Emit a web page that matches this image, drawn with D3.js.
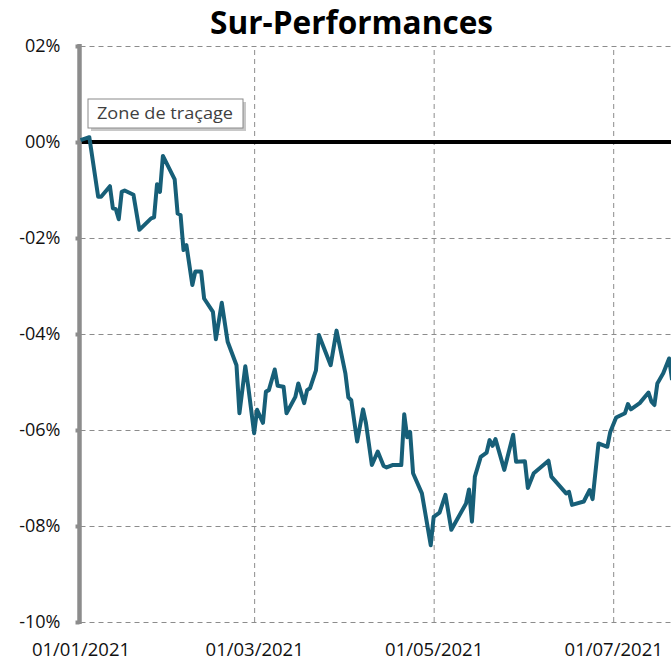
<!DOCTYPE html>
<html>
<head>
<meta charset="utf-8">
<script src="https://cdn.jsdelivr.net/npm/d3@7"></script>
<style>
  body { margin: 0; background: #fff; }
  svg { display: block; }
</style>
</head>
<body>
<div id="chart"></div>
<script>
// series (values in %)
var dates = [
  "2021-01-01","2021-01-04","2021-01-07","2021-01-08","2021-01-11","2021-01-12","2021-01-13",
  "2021-01-14","2021-01-15","2021-01-16","2021-01-19","2021-01-21","2021-01-25","2021-01-26",
  "2021-01-27","2021-01-28","2021-01-29","2021-02-02","2021-02-03","2021-02-04","2021-02-05",
  "2021-02-06","2021-02-08","2021-02-09","2021-02-11","2021-02-12","2021-02-15","2021-02-16",
  "2021-02-18","2021-02-20","2021-02-23","2021-02-24","2021-02-26","2021-02-27","2021-03-01",
  "2021-03-02","2021-03-04","2021-03-05","2021-03-06","2021-03-08","2021-03-09","2021-03-11",
  "2021-03-12","2021-03-15","2021-03-16","2021-03-18","2021-03-19","2021-03-20","2021-03-22",
  "2021-03-23","2021-03-27","2021-03-29","2021-04-01","2021-04-02","2021-04-03","2021-04-05",
  "2021-04-07","2021-04-08","2021-04-10","2021-04-12","2021-04-14","2021-04-15","2021-04-17",
  "2021-04-20","2021-04-21","2021-04-22","2021-04-23","2021-04-24","2021-04-27","2021-04-30",
  "2021-05-01","2021-05-03","2021-05-05","2021-05-07","2021-05-12","2021-05-13","2021-05-14",
  "2021-05-15","2021-05-17","2021-05-19","2021-05-20","2021-05-21","2021-05-22","2021-05-25",
  "2021-05-28","2021-05-29","2021-06-01","2021-06-02","2021-06-04","2021-06-09","2021-06-10",
  "2021-06-15","2021-06-16","2021-06-17","2021-06-21","2021-06-23","2021-06-24","2021-06-26",
  "2021-06-29","2021-06-30","2021-07-02","2021-07-05","2021-07-06","2021-07-07","2021-07-10",
  "2021-07-13","2021-07-14","2021-07-15","2021-07-16","2021-07-18","2021-07-20","2021-07-21"
];
var surPerf = [
  0.04, 0.10, -1.14, -1.14, -0.92, -1.38, -1.40,
  -1.61, -1.04, -1.01, -1.10, -1.83, -1.59, -1.57,
  -0.88, -1.04, -0.29, -0.78, -1.49, -1.52, -2.25,
  -2.15, -2.98, -2.70, -2.70, -3.26, -3.54, -4.11,
  -3.35, -4.16, -4.65, -5.65, -4.67, -5.10, -6.07,
  -5.58, -5.85, -5.20, -5.17, -4.74, -5.08, -5.10,
  -5.65, -5.31, -5.03, -5.44, -5.17, -5.13, -4.76,
  -4.02, -4.65, -3.93, -4.82, -5.32, -5.38, -6.24,
  -5.57, -5.86, -6.73, -6.45, -6.75, -6.78, -6.73,
  -6.73, -5.67, -6.15, -6.04, -6.90, -7.32, -8.40,
  -7.81, -7.72, -7.35, -8.08, -7.53, -7.24, -7.91,
  -6.97, -6.56, -6.47, -6.21, -6.33, -6.19, -6.83,
  -6.10, -6.66, -6.65, -7.21, -6.90, -6.64, -6.97,
  -7.32, -7.29, -7.56, -7.49, -7.25, -7.44, -6.28,
  -6.35, -6.04, -5.74, -5.65, -5.46, -5.57, -5.44,
  -5.22, -5.41, -5.48, -5.03, -4.82, -4.51, -4.96
];
var yTicks = [2, 0, -2, -4, -6, -8, -10];
var xTickLabels = ["2021-01-01", "2021-03-01", "2021-05-01", "2021-07-01"];
var chartTitle = "Sur-Performances";
var tipLabel = "Zone de traçage";

var width = 671, height = 662;
var plotLeft = 80.5, plotTop = 46, plotBottom = 622;
var font = "'Open Sans', 'Liberation Sans', sans-serif";

var parse = d3.timeParse("%Y-%m-%d");
var data = dates.map(function(d, i) { return {date: parse(d), value: surPerf[i]}; });
var xTicks = xTickLabels.map(parse);

var x = d3.scaleTime()
    .domain([parse("2021-01-01"), parse("2021-07-01")])
    .range([plotLeft, 613.2]);

var y = d3.scaleLinear()
    .domain([-10, 2])
    .range([plotBottom, plotTop]);

var pct = function(v) {
  return (v < 0 ? "-" : "") + String(Math.abs(v)).padStart(2, "0") + "%";
};

var svg = d3.select("#chart").append("svg")
    .attr("width", width)
    .attr("height", height);

// dashed grid
var gridY = svg.append("g")
    .attr("transform", "translate(" + plotLeft + ",0)")
    .call(d3.axisLeft(y).tickValues(yTicks).tickSize(-(width - plotLeft)).tickFormat(""));
var gridX = svg.append("g")
    .attr("transform", "translate(0," + plotBottom + ")")
    .call(d3.axisBottom(x).tickValues(xTicks.slice(1)).tickSize(-(plotBottom - plotTop)).tickFormat(""));
[gridY, gridX].forEach(function(g) {
  g.select(".domain").remove();
  g.selectAll("line")
    .attr("stroke", "#8c8c8c")
    .attr("stroke-width", 1)
    .attr("stroke-dasharray", "5,4");
});

// zero line
svg.append("line")
    .attr("x1", plotLeft).attr("x2", width)
    .attr("y1", y(0)).attr("y2", y(0))
    .attr("stroke", "#000")
    .attr("stroke-width", 4);

// y axis with labels
var yAxis = svg.append("g")
    .attr("transform", "translate(" + (plotLeft - 1) + ",0)")
    .call(d3.axisLeft(y).tickValues(yTicks).tickFormat(pct).tickSize(4).tickPadding(15));
yAxis.select(".domain").remove();
yAxis.selectAll("line").attr("stroke", "#8c8c8c").attr("stroke-width", 4);
yAxis.selectAll("text")
    .attr("fill", "#111")
    .style("font-family", font)
    .style("font-size", "18px");

svg.append("line")
    .attr("x1", plotLeft - 1).attr("x2", plotLeft - 1)
    .attr("y1", plotTop - 2).attr("y2", plotBottom + 2)
    .attr("stroke", "#8c8c8c")
    .attr("stroke-width", 4.5);

// x axis labels
var xAxis = svg.append("g")
    .attr("transform", "translate(0," + plotBottom + ")")
    .call(d3.axisBottom(x).tickValues(xTicks).tickFormat(d3.timeFormat("%d/%m/%Y")).tickSize(0).tickPadding(21));
xAxis.select(".domain").remove();
xAxis.selectAll("text")
    .attr("fill", "#111")
    .style("font-family", font)
    .style("font-size", "18.5px");

// series
var line = d3.line()
    .x(function(d) { return x(d.date); })
    .y(function(d) { return y(d.value); });

svg.append("path")
    .datum(data)
    .attr("fill", "none")
    .attr("stroke", "#175f78")
    .attr("stroke-width", 4)
    .attr("stroke-linejoin", "round")
    .attr("d", line);

// title
svg.append("text")
    .attr("x", 351.5)
    .attr("y", 34)
    .attr("text-anchor", "middle")
    .attr("textLength", 283)
    .attr("lengthAdjust", "spacingAndGlyphs")
    .style("font-family", font)
    .style("font-weight", "bold")
    .style("font-size", "33px")
    .attr("fill", "#000")
    .text(chartTitle);

// hover tip box
var tip = svg.append("g").attr("transform", "translate(88,99)");
tip.append("rect")
    .attr("x", 3).attr("y", 3)
    .attr("width", 155).attr("height", 29)
    .attr("fill", "#c8c8c8");
tip.append("rect")
    .attr("width", 155).attr("height", 29)
    .attr("fill", "#fff")
    .attr("stroke", "#8a8a8a")
    .attr("stroke-width", 1);
tip.append("text")
    .attr("x", 9)
    .attr("y", 20)
    .attr("textLength", 136)
    .attr("lengthAdjust", "spacingAndGlyphs")
    .style("font-family", font)
    .style("font-size", "16px")
    .attr("fill", "#404040")
    .text(tipLabel);
</script>
</body>
</html>
